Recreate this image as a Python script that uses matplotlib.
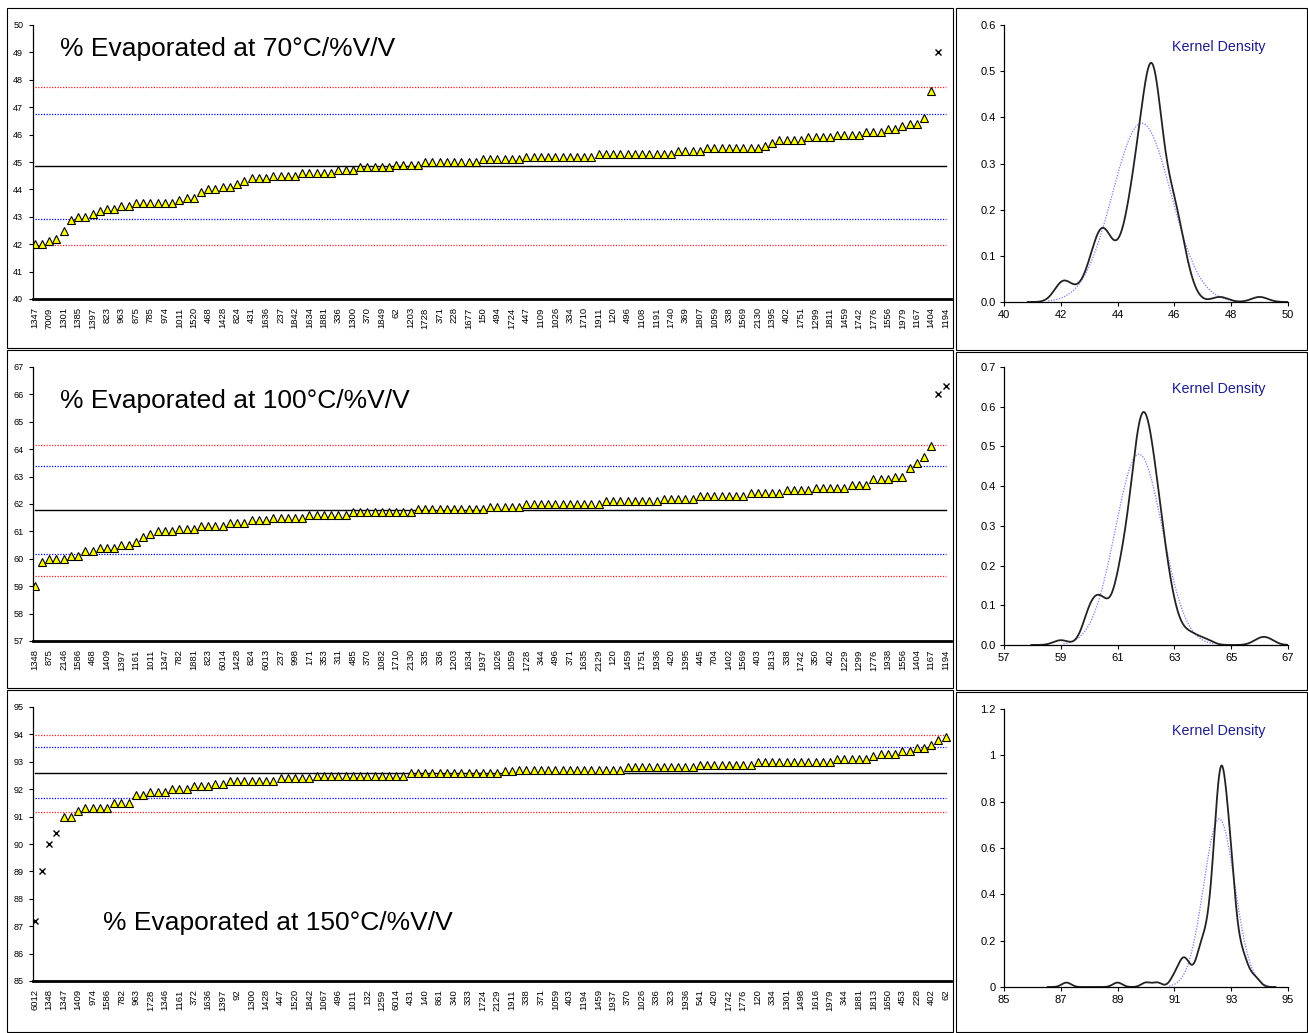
import numpy as np
import matplotlib
matplotlib.use("Agg")
import matplotlib.pyplot as plt
from matplotlib.patches import Rectangle

plt.rcParams['font.family'] = ['Liberation Sans', 'DejaVu Sans']

# ---------------- data ----------------
# Sorted laboratory results, one value per lab (NaN = not reported)
evap70 = [42.0, 42.0, 42.1, 42.2, 42.5, 42.9, 43.0, 43.0, 43.1, 43.2,
          43.3, 43.3, 43.4, 43.4, 43.5, 43.5, 43.5, 43.5, 43.5, 43.5,
          43.6, 43.7, 43.7, 43.9, 44.0, 44.0, 44.1, 44.1, 44.2, 44.3,
          44.4, 44.4, 44.4, 44.5, 44.5, 44.5, 44.5, 44.6, 44.6, 44.6,
          44.6, 44.6, 44.7, 44.7, 44.7, 44.8, 44.8, 44.8, 44.8, 44.8,
          44.9, 44.9, 44.9, 44.9, 45.0, 45.0, 45.0, 45.0, 45.0, 45.0,
          45.0, 45.0, 45.1, 45.1, 45.1, 45.1, 45.1, 45.1, 45.2, 45.2,
          45.2, 45.2, 45.2, 45.2, 45.2, 45.2, 45.2, 45.2, 45.3, 45.3,
          45.3, 45.3, 45.3, 45.3, 45.3, 45.3, 45.3, 45.3, 45.3, 45.4,
          45.4, 45.4, 45.4, 45.5, 45.5, 45.5, 45.5, 45.5, 45.5, 45.5,
          45.5, 45.6, 45.7, 45.8, 45.8, 45.8, 45.8, 45.9, 45.9, 45.9,
          45.9, 46.0, 46.0, 46.0, 46.0, 46.1, 46.1, 46.1, 46.2, 46.2,
          46.3, 46.4, 46.4, 46.6, 47.6, 49.0, np.nan]
evap70_outliers = [125]
evap70_labels = ["1347", "7009", "1301", "1385", "1397", "823", "963", "875", "785", "974",
                 "1011", "1520", "468", "1428", "824", "431", "1636", "237", "1842", "1634",
                 "1881", "336", "1300", "370", "1849", "62", "1203", "1728", "371", "228",
                 "1677", "150", "494", "1724", "447", "1109", "1026", "334", "1710", "1911",
                 "120", "496", "1108", "1191", "1740", "369", "1807", "1059", "338", "1569",
                 "2130", "1395", "402", "1751", "1299", "1811", "1459", "1742", "1776", "1556",
                 "1979", "1167", "1404", "1194"]

evap100 = [59.0, 59.9, 60.0, 60.0, 60.0, 60.1, 60.1, 60.3, 60.3, 60.4,
           60.4, 60.4, 60.5, 60.5, 60.6, 60.8, 60.9, 61.0, 61.0, 61.0,
           61.1, 61.1, 61.1, 61.2, 61.2, 61.2, 61.2, 61.3, 61.3, 61.3,
           61.4, 61.4, 61.4, 61.5, 61.5, 61.5, 61.5, 61.5, 61.6, 61.6,
           61.6, 61.6, 61.6, 61.6, 61.7, 61.7, 61.7, 61.7, 61.7, 61.7,
           61.7, 61.7, 61.7, 61.8, 61.8, 61.8, 61.8, 61.8, 61.8, 61.8,
           61.8, 61.8, 61.8, 61.9, 61.9, 61.9, 61.9, 61.9, 62.0, 62.0,
           62.0, 62.0, 62.0, 62.0, 62.0, 62.0, 62.0, 62.0, 62.0, 62.1,
           62.1, 62.1, 62.1, 62.1, 62.1, 62.1, 62.1, 62.2, 62.2, 62.2,
           62.2, 62.2, 62.3, 62.3, 62.3, 62.3, 62.3, 62.3, 62.3, 62.4,
           62.4, 62.4, 62.4, 62.4, 62.5, 62.5, 62.5, 62.5, 62.6, 62.6,
           62.6, 62.6, 62.6, 62.7, 62.7, 62.7, 62.9, 62.9, 62.9, 63.0,
           63.0, 63.3, 63.5, 63.7, 64.1, 66.0, 66.3]
evap100_outliers = [125, 126]
evap100_labels = ["1348", "875", "2146", "1586", "468", "1409", "1397", "1161", "1011", "1347",
                  "782", "1881", "823", "6014", "1428", "824", "6013", "237", "998", "171",
                  "353", "311", "485", "370", "1082", "1710", "2130", "335", "336", "1203",
                  "1634", "1937", "1026", "1059", "1728", "344", "496", "371", "1635", "2129",
                  "120", "1459", "1751", "1936", "420", "1395", "445", "704", "1402", "1569",
                  "403", "1813", "338", "1742", "350", "402", "1229", "1299", "1776", "1938",
                  "1556", "1404", "1167", "1194"]

evap150 = [87.2, 89.0, 90.0, 90.4, 91.0, 91.0, 91.2, 91.3, 91.3, 91.3,
           91.3, 91.5, 91.5, 91.5, 91.8, 91.8, 91.9, 91.9, 91.9, 92.0,
           92.0, 92.0, 92.1, 92.1, 92.1, 92.2, 92.2, 92.3, 92.3, 92.3,
           92.3, 92.3, 92.3, 92.3, 92.4, 92.4, 92.4, 92.4, 92.4, 92.5,
           92.5, 92.5, 92.5, 92.5, 92.5, 92.5, 92.5, 92.5, 92.5, 92.5,
           92.5, 92.5, 92.6, 92.6, 92.6, 92.6, 92.6, 92.6, 92.6, 92.6,
           92.6, 92.6, 92.6, 92.6, 92.6, 92.65, 92.65, 92.7, 92.7, 92.7,
           92.7, 92.7, 92.7, 92.7, 92.7, 92.7, 92.7, 92.7, 92.7, 92.7,
           92.7, 92.7, 92.8, 92.8, 92.8, 92.8, 92.8, 92.8, 92.8, 92.8,
           92.8, 92.8, 92.9, 92.9, 92.9, 92.9, 92.9, 92.9, 92.9, 92.9,
           93.0, 93.0, 93.0, 93.0, 93.0, 93.0, 93.0, 93.0, 93.0, 93.0,
           93.0, 93.1, 93.1, 93.1, 93.1, 93.1, 93.2, 93.3, 93.3, 93.3,
           93.4, 93.4, 93.5, 93.5, 93.6, 93.8, 93.9]
evap150_outliers = [0, 1, 2, 3]
evap150_labels = ["6012", "1348", "1347", "1409", "974", "1586", "782", "963", "1728", "1346",
                  "1161", "372", "1636", "1397", "92", "1300", "1428", "447", "1520", "1842",
                  "1067", "496", "1011", "132", "1259", "6014", "431", "140", "861", "340",
                  "333", "1724", "2129", "1911", "338", "371", "1059", "403", "1194", "1459",
                  "1937", "370", "1026", "336", "323", "1936", "541", "420", "1742", "1776",
                  "120", "334", "1301", "1498", "1616", "1979", "344", "1881", "1813", "1650",
                  "453", "228", "402", "62"]

# assigned value, inner (blue) and outer (red) limits
ref70 = dict(mean=44.85, inner=(42.93, 46.77), outer=(41.97, 47.73))
ref100 = dict(mean=61.78, inner=(60.18, 63.39), outer=(59.37, 64.15))
ref150 = dict(mean=92.59, inner=(91.68, 93.54), outer=(91.17, 93.98))

# normal fit (mean, sd) and kernel bandwidth for the density panels
norm70, bw70 = (44.85, 1.03), 0.29
norm100, bw100 = (61.75, 0.83), 0.26
norm150, bw150 = (92.58, 0.55), 0.165

titles = ["% Evaporated at 70°C/%V/V", "% Evaporated at 100°C/%V/V",
          "% Evaporated at 150°C/%V/V"]

# ---------------- figure ----------------
W, H = 1308, 1033
fig = plt.figure(figsize=(W / 100, H / 100), dpi=100)


def rect(x0, y0, x1, y1):
    return [x0 / W, 1 - y1 / H, (x1 - x0) / W, (y1 - y0) / H]


# chart frames
for (x0, y0, x1, y1) in [(7, 8, 953, 348), (7, 350, 953, 688), (7, 690, 953, 1032),
                         (956, 8, 1307, 350), (956, 352, 1307, 690), (956, 692, 1307, 1032)]:
    fig.patches.append(Rectangle((x0 / W, 1 - y1 / H), (x1 - x0) / W, (y1 - y0) / H,
                                 transform=fig.transFigure, fill=False,
                                 edgecolor='black', linewidth=0.8))

rows = [
    dict(vals=evap70, out=evap70_outliers, labels=evap70_labels, ref=ref70,
         ylim=(40, 50), yt=np.arange(40, 51, 1), box=(33, 25, 951, 299),
         title=titles[0], tpos=(60, 49),
         dbox=(1004, 25, 1288, 302), dxlim=(40, 50), dxt=np.arange(40, 51, 2),
         dylim=(0, 0.6), dyt=np.arange(0, 0.61, 0.1), dfmt="{:.1f}",
         norm=norm70, bw=bw70, kpos=(1219, 47)),
    dict(vals=evap100, out=evap100_outliers, labels=evap100_labels, ref=ref100,
         ylim=(57, 67), yt=np.arange(57, 68, 1), box=(33, 367, 951, 641),
         title=titles[1], tpos=(60, 401),
         dbox=(1004, 367, 1288, 645), dxlim=(57, 67), dxt=np.arange(57, 68, 2),
         dylim=(0, 0.7), dyt=np.arange(0, 0.71, 0.1), dfmt="{:.1f}",
         norm=norm100, bw=bw100, kpos=(1219, 389)),
    dict(vals=evap150, out=evap150_outliers, labels=evap150_labels, ref=ref150,
         ylim=(85, 95), yt=np.arange(85, 96, 1), box=(33, 707, 951, 981),
         title=titles[2], tpos=(103, 923),
         dbox=(1004, 709, 1288, 987), dxlim=(85, 95), dxt=np.arange(85, 96, 2),
         dylim=(0, 1.2), dyt=np.arange(0, 1.21, 0.2), dfmt="{:g}",
         norm=norm150, bw=bw150, kpos=(1219, 731)),
]

dot = (0, (1, 1.2))

for r in rows:
    vals = np.array(r["vals"], dtype=float)
    n = len(vals)
    idx = np.arange(n)
    is_out = np.zeros(n, dtype=bool)
    is_out[r["out"]] = True

    ax = fig.add_axes(rect(*r["box"]))
    ref = r["ref"]
    ax.plot(idx, np.full(n, ref["outer"][0]), color='#ff2020', lw=0.9, ls=dot)
    ax.plot(idx, np.full(n, ref["outer"][1]), color='#ff2020', lw=0.9, ls=dot)
    ax.plot(idx, np.full(n, ref["inner"][0]), color='#0000ff', lw=0.9, ls=dot)
    ax.plot(idx, np.full(n, ref["inner"][1]), color='#0000ff', lw=0.9, ls=dot)
    ax.plot(idx, np.full(n, ref["mean"]), color='black', lw=1.0)

    tri = np.where(is_out, np.nan, vals)
    ax.plot(idx, tri, ls='none', marker='^', ms=5.8, mfc='#ffff00', mec='black', mew=0.8)
    xo = np.where(is_out, vals, np.nan)
    ax.plot(idx, xo, ls='none', marker='x', ms=4.5, mec='black', mew=1.0)

    ax.set_xlim(-0.235, 126.73)
    ax.set_ylim(*r["ylim"])
    ax.set_yticks(r["yt"])
    ax.set_yticklabels([str(v) for v in r["yt"]], fontsize=6.5)
    ax.set_xticks(idx[::2])
    ax.set_xticklabels(r["labels"], rotation=90, fontsize=6.8)
    ax.tick_params(axis='x', length=0, pad=6)
    ax.tick_params(axis='y', length=3, width=0.8, direction='out', pad=4)
    for s in ('top', 'right'):
        ax.spines[s].set_visible(False)
    ax.spines['left'].set_linewidth(0.9)
    ax.spines['bottom'].set_linewidth(2.0)
    ax.text(r["tpos"][0] / W, 1 - r["tpos"][1] / H, r["title"], transform=fig.transFigure,
            fontsize=19, ha='left', va='center')

    # density panel
    dx = fig.add_axes(rect(*r["dbox"]))
    good = vals[~np.isnan(vals)]
    bw = r["bw"]
    xg = np.linspace(good.min() - 4 * bw, good.max() + 4 * bw, 600)
    dens = np.exp(-0.5 * ((xg[:, None] - good[None, :]) / bw) ** 2).sum(axis=1)
    dens /= (len(good) * bw * np.sqrt(2 * np.pi))
    mu, sd = r["norm"]
    xn = np.linspace(mu - 3.2 * sd, mu + 3.2 * sd, 300)
    yn = np.exp(-0.5 * ((xn - mu) / sd) ** 2) / (sd * np.sqrt(2 * np.pi))
    dx.plot(xn, yn, color='#7b7bff', lw=0.9, ls=dot)
    dx.plot(xg, dens, color='#222222', lw=1.3)
    dx.set_xlim(*r["dxlim"])
    dx.set_ylim(*r["dylim"])
    dx.set_xticks(r["dxt"])
    dx.set_xticklabels([str(v) for v in r["dxt"]], fontsize=8)
    dx.set_yticks(r["dyt"])
    dx.set_yticklabels([r["dfmt"].format(v) for v in r["dyt"]], fontsize=8)
    dx.tick_params(length=3, width=0.8, direction='out', pad=3)
    for s in ('top', 'right'):
        dx.spines[s].set_visible(False)
    dx.spines['left'].set_linewidth(0.9)
    dx.spines['bottom'].set_linewidth(0.9)
    fig.text(r["kpos"][0] / W, 1 - r["kpos"][1] / H, "Kernel Density", color='#1c1c8c',
             fontsize=10.3, ha='center', va='center')

fig.savefig("out.png", dpi=100)
